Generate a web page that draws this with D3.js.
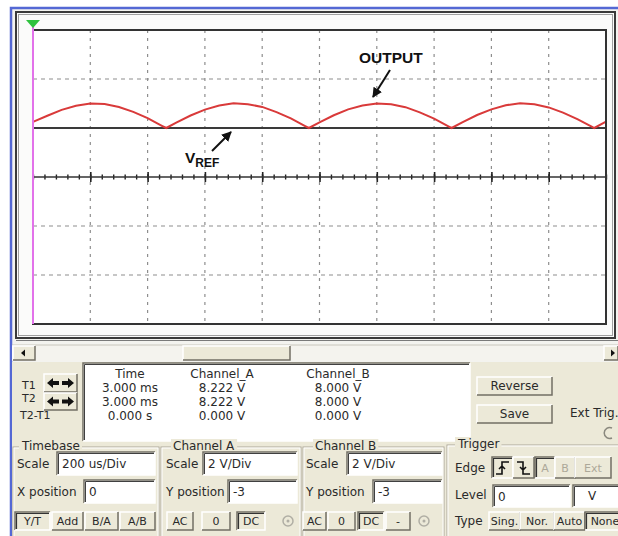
<!DOCTYPE html>
<html>
<head>
<meta charset="utf-8">
<script src="https://cdn.jsdelivr.net/npm/d3@7"></script>
<style>
  body { margin: 0; background: #fff; }
  svg text { font-family: "DejaVu Sans", "Liberation Sans", sans-serif; font-size: 12px; fill: #2a2a2a; }
  .note { font-family: "Liberation Sans", Arial, sans-serif; font-weight: bold; fill: #111; }
</style>
</head>
<body>
<div id="scope"></div>
<script>
// Data: time in us, Channel A in volts
const times = [0, 50, 100, 150, 200, 250, 300, 350, 400, 450, 465, 500, 550, 600, 650, 700, 750, 800, 850, 900, 950, 963,
  1000, 1050, 1100, 1150, 1200, 1250, 1300, 1350, 1400, 1450, 1461, 1500, 1550, 1600, 1650, 1700, 1750, 1800, 1850, 1900, 1950, 1959, 2000];
const channelA = [8.25, 8.50, 8.74, 8.91, 9.00, 8.98, 8.86, 8.66, 8.40, 8.09, 8.00, 8.22, 8.51, 8.75, 8.92, 9.01, 8.97, 8.86, 8.65, 8.39, 8.08, 8.00,
  8.23, 8.52, 8.76, 8.92, 9.00, 8.97, 8.85, 8.64, 8.38, 8.07, 8.00, 8.24, 8.53, 8.76, 8.93, 9.01, 8.97, 8.84, 8.63, 8.36, 8.06, 8.00, 8.26];
const channelB = 8.0; // VREF, flat DC

const gridTimes = [200, 400, 600, 800, 1000, 1200, 1400, 1600, 1800];
const gridVolts = [2, 4, 8, 10];
const axisVolt = 6;

// Cursor readout
const readRows = ["T1", "T2", "T2-T1"];
const readTime = ["3.000 ms", "3.000 ms", "0.000 s"];
const readChA = ["8.222 V", "8.222 V", "0.000 V"];
const readChB = ["8.000 V", "8.000 V", "0.000 V"];

const W = 618, H = 536;
const beige = "#ece9d8";

const svg = d3.select("#scope").append("svg").attr("width", W).attr("height", H);

// ---------- helpers ----------
function bevel(g, x, y, w, h, sunken, fill) {
    g.append("rect").attr("x", x).attr("y", y).attr("width", w).attr("height", h).attr("fill", fill || beige);
    const tl = sunken ? "#716f64" : "#ffffff";
    const br = sunken ? "#ffffff" : "#716f64";
    g.append("path").attr("d", `M${x},${y + h} V${y} H${x + w}`).attr("fill", "none").attr("stroke", tl).attr("stroke-width", 1.5);
    g.append("path").attr("d", `M${x + w},${y} V${y + h} H${x}`).attr("fill", "none").attr("stroke", br).attr("stroke-width", 1.5);
}
function button(x, y, w, h, label, pressed, opts = {}) {
    const g = svg.append("g");
    bevel(g, x, y, w, h, pressed);
    if (pressed) {
        g.append("path").attr("d", `M${x + 1.5},${y + h - 1} V${y + 1.5} H${x + w - 1}`)
            .attr("fill", "none").attr("stroke", "#333").attr("stroke-width", 1.2);
    }
    if (label) {
        g.append("text").attr("x", x + w / 2).attr("y", y + h / 2 + 4)
            .attr("text-anchor", "middle")
            .style("font-size", (opts.size || 11) + "px")
            .style("fill", opts.grey ? "#aca899" : "#2a2a2a")
            .text(label);
    }
    return g;
}
function input(x, y, w, h, txt) {
    const g = svg.append("g");
    bevel(g, x, y, w, h, true, "#fff");
    g.append("path").attr("d", `M${x + 1.5},${y + h - 1} V${y + 1.5} H${x + w - 1}`)
        .attr("fill", "none").attr("stroke", "#404040").attr("stroke-width", 1);
    g.append("text").attr("x", x + 5).attr("y", y + h / 2 + 4.5).text(txt);
}
function group(x, y, w, h, label, lx) {
    const g = svg.append("g");
    g.append("rect").attr("x", x).attr("y", y).attr("width", w).attr("height", h)
        .attr("fill", "none").attr("stroke", "#aca899");
    g.append("rect").attr("x", x + 1).attr("y", y + 1).attr("width", w - 2).attr("height", h - 2)
        .attr("fill", "none").attr("stroke", "#fff");
    const t = g.append("text").attr("x", lx).attr("y", y + 3).text(label);
    const bb = t.node().getBBox();
    g.insert("rect", "text").attr("x", bb.x - 2).attr("y", bb.y).attr("width", bb.width + 4).attr("height", bb.height)
        .attr("fill", beige);
}

// ---------- window chrome ----------
svg.append("rect").attr("x", 11).attr("y", 8).attr("width", W - 11).attr("height", H - 8).attr("fill", "#f3f3ef");
svg.append("path").attr("d", `M11,${H} V8 H${W}`).attr("fill", "none").attr("stroke", "#5468d4").attr("stroke-width", 2.5);

// screen frame
svg.append("rect").attr("x", 16).attr("y", 12).attr("width", 599).attr("height", 326)
    .attr("fill", "#fbfbfa").attr("stroke", "#3a3a3a").attr("stroke-width", 2);
svg.append("rect").attr("x", 18.5).attr("y", 14.5).attr("width", 594).attr("height", 321)
    .attr("fill", "none").attr("stroke", "#a0a0a0").attr("stroke-width", 1);
svg.append("line").attr("x1", 16).attr("x2", W).attr("y1", 340.5).attr("y2", 340.5).attr("stroke", "#7a7a7a");

// ---------- scope plot ----------
const x = d3.scaleLinear().domain([0, 2000]).range([33, 606]);
const y = d3.scaleLinear().domain([0, 12]).range([324, 30]);

const plot = svg.append("g");
plot.append("rect").attr("x", x(0)).attr("y", y(12)).attr("width", x(2000) - x(0)).attr("height", y(0) - y(12))
    .attr("fill", "#fff");

plot.selectAll(".vgrid").data(gridTimes).enter().append("line")
    .attr("x1", d => x(d)).attr("x2", d => x(d)).attr("y1", y(12)).attr("y2", y(0))
    .attr("stroke", "#8e8e8e").attr("stroke-width", 1.2).attr("stroke-dasharray", "3,5");
plot.selectAll(".hgrid").data(gridVolts).enter().append("line")
    .attr("x1", x(0)).attr("x2", x(2000)).attr("y1", d => y(d)).attr("y2", d => y(d))
    .attr("stroke", "#8e8e8e").attr("stroke-width", 1.2).attr("stroke-dasharray", "4,4");

// centre axis with tick marks
const minorTicks = d3.range(0, 2001, 40);
const axisY = y(axisVolt);
[d3.axisBottom, d3.axisTop].forEach(ax => {
    plot.append("g").attr("transform", `translate(0,${axisY})`)
        .call(ax(x).tickValues(minorTicks).tickSize(2.5).tickFormat("").tickSizeOuter(0))
        .call(g => g.select(".domain").remove())
        .call(g => g.selectAll("line").attr("stroke", "#222").attr("stroke-width", 1.4));
    plot.append("g").attr("transform", `translate(0,${axisY})`)
        .call(ax(x).tickValues(gridTimes).tickSize(5).tickFormat("").tickSizeOuter(0))
        .call(g => g.select(".domain").remove())
        .call(g => g.selectAll("line").attr("stroke", "#222").attr("stroke-width", 1.6));
});
plot.append("line").attr("x1", x(0)).attr("x2", x(2000)).attr("y1", axisY).attr("y2", axisY)
    .attr("stroke", "#333").attr("stroke-width", 1.6);

// Channel B (VREF)
plot.append("line").attr("x1", x(0)).attr("x2", x(2000)).attr("y1", y(channelB)).attr("y2", y(channelB))
    .attr("stroke", "#3a3a3a").attr("stroke-width", 2);

// Channel A (output)
const pts = times.map((t, i) => ({ t, v: channelA[i] }));
plot.append("path").datum(pts)
    .attr("d", d3.line().x(d => x(d.t)).y(d => y(d.v)))
    .attr("fill", "none").attr("stroke", "#d93a3a").attr("stroke-width", 2);

// plot border
plot.append("rect").attr("x", x(0)).attr("y", y(12)).attr("width", x(2000) - x(0)).attr("height", y(0) - y(12))
    .attr("fill", "none").attr("stroke", "#333").attr("stroke-width", 2);

// cursor + trigger marker
plot.append("line").attr("x1", x(0)).attr("x2", x(0)).attr("y1", 27).attr("y2", y(0))
    .attr("stroke", "#e272ea").attr("stroke-width", 2);
plot.append("path").attr("d", `M${x(0) - 7},20 H${x(0) + 7} L${x(0)},28 Z`).attr("fill", "#2fc23e");

// annotations
svg.append("text").attr("class", "note").attr("x", 359).attr("y", 63).style("font-size", "15.5px").text("OUTPUT");
const vref = svg.append("text").attr("class", "note").attr("x", 185).attr("y", 163).style("font-size", "15.5px");
vref.append("tspan").text("V");
vref.append("tspan").attr("dy", 4).style("font-size", "12px").text("REF");

svg.append("defs").append("marker").attr("id", "head").attr("viewBox", "0 0 10 10")
    .attr("refX", 9).attr("refY", 5).attr("markerWidth", 5).attr("markerHeight", 5).attr("orient", "auto")
    .append("path").attr("d", "M0,0 L10,5 L0,10 Z").attr("fill", "#111");
svg.append("line").attr("x1", 390).attr("y1", 70).attr("x2", 373).attr("y2", 97)
    .attr("stroke", "#111").attr("stroke-width", 2).attr("marker-end", "url(#head)");
svg.append("line").attr("x1", 212).attr("y1", 151).attr("x2", 231).attr("y2", 132)
    .attr("stroke", "#111").attr("stroke-width", 2).attr("marker-end", "url(#head)");

// ---------- scrollbar ----------
svg.append("rect").attr("x", 12).attr("y", 345).attr("width", W - 12).attr("height", 16).attr("fill", "#f4f3ee");
svg.append("line").attr("x1", 12).attr("x2", W).attr("y1", 345).attr("y2", 345).attr("stroke", "#c8c6bc");
button(13, 346, 22, 14, "", false);
svg.append("path").attr("d", "M21,353 L25,349.5 V356.5 Z").attr("fill", "#111");
button(183, 346, 107, 14, "", false);
button(604, 346, 14, 14, "", false);
svg.append("path").attr("d", "M615,353 L611,349.5 V356.5 Z").attr("fill", "#111");

// ---------- lower panel ----------
svg.append("rect").attr("x", 12).attr("y", 362).attr("width", W - 12).attr("height", H - 362).attr("fill", beige);

// cursor readout
const ro = svg.append("g");
bevel(ro, 83, 363, 387, 78, true, "#fff");
ro.append("path").attr("d", "M84.5,440 V364.5 H469").attr("fill", "none").attr("stroke", "#404040");
const cols = [[130, "Time", readTime], [222, "Channel_A", readChA], [338, "Channel_B", readChB]];
cols.forEach(([cx, head, vals]) => {
    ro.append("text").attr("x", cx).attr("y", 378).attr("text-anchor", "middle").text(head);
    ro.selectAll(null).data(vals).enter().append("text")
        .attr("x", cx).attr("y", (d, i) => 392 + i * 14).attr("text-anchor", "middle").text(d => d);
});
readRows.forEach((r, i) => {
    svg.append("text").attr("x", i < 2 ? 22 : 20).attr("y", [389, 402, 419][i]).style("font-size", "11px").text(r);
});
[[374, 18], [393, 17]].forEach(([by, bh]) => {
    button(44, by, 33, bh, "", false);
    const cy = by + bh / 2;
    svg.append("path").attr("d", `M47,${cy} L53,${cy - 5} V${cy - 2} H59 V${cy + 2} H53 V${cy + 5} Z`).attr("fill", "#111");
    svg.append("path").attr("d", `M74,${cy} L68,${cy - 5} V${cy - 2} H62 V${cy + 2} H68 V${cy + 5} Z`).attr("fill", "#111");
});

button(477, 377, 75, 18, "Reverse", false, { size: 12 });
button(477, 405, 75, 18, "Save", false, { size: 12 });
svg.append("text").attr("x", 570).attr("y", 417).text("Ext Trig.");
svg.append("path").attr("d", "M612,428 A5.5,5.5 0 1 0 612,438").attr("fill", "none").attr("stroke", "#8a887e").attr("stroke-width", 1.5);

// group boxes
group(13, 447, 146, 100, "Timebase", 22);
group(161, 447, 140, 100, "Channel A", 173);
group(303, 447, 141, 100, "Channel B", 315);
group(447, 445, 180, 100, "Trigger", 458);

// Timebase
svg.append("text").attr("x", 17).attr("y", 468).text("Scale");
input(57, 452, 98, 23, "200 us/Div");
svg.append("text").attr("x", 17).attr("y", 496).text("X position");
input(84, 480, 71, 23, "0");
button(15, 512, 35, 18, "Y/T", true);
button(52, 512, 31, 18, "Add", false);
button(85, 512, 33, 18, "B/A", false);
button(120, 512, 35, 18, "A/B", false);

// Channel A / Channel B
[[166, 203, 228, [[167, 26, "AC", false], [202, 28, "0", false], [237, 28, "DC", true]], 288],
 [306, 347, 373, [[303, 23, "AC", false], [328, 27, "0", false], [358, 26, "DC", true], [386, 24, "-", false]], 424]]
    .forEach(([lx, sx, px, btns, rx]) => {
        svg.append("text").attr("x", lx).attr("y", 468).text("Scale");
        input(sx, 452, sx === 347 ? 95 : 94, 23, "2  V/Div");
        svg.append("text").attr("x", lx).attr("y", 496).text("Y position");
        input(px, 480, 69, 23, "-3");
        btns.forEach(([bx, bw, lab, pr]) => button(bx, 512, bw, 18, lab, pr));
        svg.append("circle").attr("cx", rx).attr("cy", 521).attr("r", 5).attr("fill", "none").attr("stroke", "#b0aea4").attr("stroke-width", 1.5);
        svg.append("circle").attr("cx", rx).attr("cy", 521).attr("r", 1.5).attr("fill", "#b0aea4");
    });

// Trigger
svg.append("text").attr("x", 455).attr("y", 472).text("Edge");
button(492, 457, 21, 21, "", true);
svg.append("path").attr("d", "M496,474 H502 V462 H509 M502,466 L499,469 M502,466 L505,469").attr("fill", "none").attr("stroke", "#111").attr("stroke-width", 1.6);
button(513, 457, 21, 21, "", false);
svg.append("path").attr("d", "M517,462 H523 V474 H530 M523,470 L520,467 M523,470 L526,467").attr("fill", "none").attr("stroke", "#111").attr("stroke-width", 1.6);
button(535, 457, 20, 21, "A", true, { grey: true });
button(555, 457, 20, 21, "B", false, { grey: true });
button(575, 457, 36, 21, "Ext", false, { grey: true });
svg.append("text").attr("x", 455).attr("y", 499).text("Level");
input(493, 485, 77, 22, "0");
input(573, 485, 55, 22, "");
svg.append("text").attr("x", 588).attr("y", 500).text("V");
svg.append("text").attr("x", 455).attr("y", 525).text("Type");
button(489, 512, 31, 18, "Sing.", false);
button(520, 512, 34, 18, "Nor.", false);
button(554, 512, 31, 18, "Auto", false);
button(585, 512, 40, 18, "None", true);
</script>
</body>
</html>
